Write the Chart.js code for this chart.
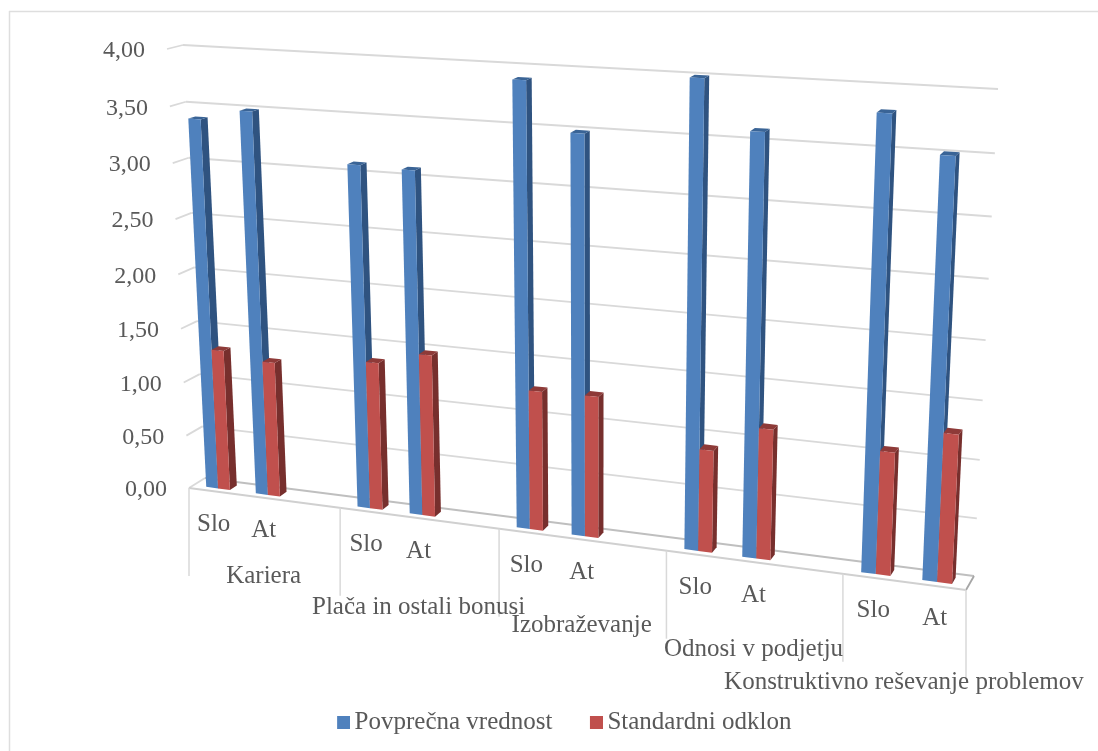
<!DOCTYPE html>
<html>
<head>
<meta charset="utf-8">
<style>
  html, body { margin: 0; padding: 0; background: #fff; }
  #wrap { position: relative; width: 1098px; height: 751px; }
</style>
</head>
<body>
<div id="wrap"><canvas id="chart" width="1098" height="751"></canvas></div>
<script src="https://cdn.jsdelivr.net/npm/chart.js@4/dist/chart.umd.min.js"></script>
<script>
//data
const categories = ['Slo', 'At', '', 'Slo', 'At', '', 'Slo', 'At', '', 'Slo', 'At', '', 'Slo', 'At'];
const groups = ['Kariera', 'Plača in ostali bonusi', 'Izobraževanje', 'Odnosi v podjetju', 'Konstruktivno reševanje problemov'];
const seriesNames = ['Povprečna vrednost', 'Standardni odklon'];
const meanValues = [3.39, 3.49, null, 3.09, 3.08, null, 3.90, 3.49, null, 4.00, 3.60, null, 3.81, 3.51];
const stdValues = [1.31, 1.25, null, 1.35, 1.47, null, 1.25, 1.26, null, 0.90, 1.14, null, 1.06, 1.27];
const yTicks = [0, 0.5, 1, 1.5, 2, 2.5, 3, 3.5, 4];

const INK = '#595959';
const FONT = '"Liberation Serif", "Times New Roman", serif';
const FRONT = ['#4F81BD', '#C0504D'];
const SIDE = ['#2F5380', '#772F2D'];
const TOP = ['#3A6496', '#8E3A38'];

//corners of the plot box on screen: bottom left, bottom right, top right, top left
const frontPlane = [[189, 488], [966, 590], [989, 97], [167, 49]];
const backPlane = [[205, 478], [974, 576], [998, 89], [183, 45]];
//depth range of the columns inside the box (0 front, 1 back)
const barDepth = [0.28, 0.72];
//how far each group label hangs under the floor
const groupDrop = [79, 89, 86, 87, 101];

//unit square -> quad homography
function quadMap(q) {
    const [[x0, y0], [x1, y1], [x2, y2], [x3, y3]] = q;
    const dx1 = x1 - x2, dx2 = x3 - x2, sx = x0 - x1 + x2 - x3;
    const dy1 = y1 - y2, dy2 = y3 - y2, sy = y0 - y1 + y2 - y3;
    const den = dx1 * dy2 - dx2 * dy1;
    const g = (sx * dy2 - dx2 * sy) / den;
    const h = (dx1 * sy - sx * dy1) / den;
    const a = x1 - x0 + g * x1, b = x3 - x0 + h * x3;
    const d = y1 - y0 + g * y1, e = y3 - y0 + h * y3;
    return (u, v) => {
        const w = g * u + h * v + 1;
        return [(a * u + b * v + x0) / w, (d * u + e * v + y0) / w];
    };
}
const mapFront = quadMap(frontPlane);
const mapBack = quadMap(backPlane);
function project(u, v, w) {
    const f = mapFront(u, v), b = mapBack(u, v);
    return [f[0] + (b[0] - f[0]) * w, f[1] + (b[1] - f[1]) * w];
}

function poly(ctx, pts, fill) {
    ctx.beginPath();
    pts.forEach((p, i) => i ? ctx.lineTo(p[0], p[1]) : ctx.moveTo(p[0], p[1]));
    ctx.closePath();
    ctx.fillStyle = fill;
    ctx.fill();
}
function line(ctx, a, b, color, width) {
    ctx.beginPath();
    ctx.moveTo(a[0], a[1]);
    ctx.lineTo(b[0], b[1]);
    ctx.strokeStyle = color;
    ctx.lineWidth = width;
    ctx.stroke();
}

//scales work in flat chart pixels, this turns them into the 0..1 box coordinates
function boxCoords(chart) {
    const area = chart.chartArea;
    return {
        u: px => (px - area.left) / (area.right - area.left),
        v: px => (area.bottom - px) / (area.bottom - area.top)
    };
}

const box3d = {
    id: 'box3d',
    beforeDatasetsDraw(chart) {
        const ctx = chart.ctx, c = boxCoords(chart), yScale = chart.scales.y, xScale = chart.scales.x;

        //outer frame, only top and left are inside the page
        line(ctx, [9, 11.5], [1098, 11.5], '#DEDEDE', 1.5);
        line(ctx, [9.5, 11], [9.5, 751], '#DEDEDE', 1.5);

        //walls
        ctx.textBaseline = 'middle';
        yScale.ticks.forEach(t => {
            const v = c.v(yScale.getPixelForValue(t.value));
            const a = project(0, v, 0), b = project(0, v, 1), d = project(1, v, 1);
            if (t.value > 0) {
                line(ctx, a, b, '#D9D9D9', 1.8);
                line(ctx, b, d, '#D9D9D9', 1.8);
            }
            ctx.font = '24px ' + FONT;
            ctx.fillStyle = INK;
            ctx.textAlign = 'right';
            ctx.fillText(t.value.toFixed(2).replace('.', ','), a[0] - 22, a[1] + 2);
        });

        //floor edges
        line(ctx, project(0, 0, 0), project(0, 0, 1), '#D9D9D9', 1.8);
        line(ctx, project(0, 0, 1), project(1, 0, 1), '#BFBFBF', 1.8);
        line(ctx, project(1, 0, 1), project(1, 0, 0), '#A6A6A6', 1.8);
        line(ctx, project(0, 0, 0), project(1, 0, 0), '#D0D0D0', 1.8);

        //category dividers and labels
        const step = xScale.getPixelForTick(1) - xScale.getPixelForTick(0);
        const slot = i => c.u(xScale.getPixelForTick(0) + (i - 0.5) * step);
        for (let i = 0; i <= categories.length; i++) {
            if (i % 3 === 0 || i === categories.length) {
                const p = project(slot(i), 0, 0);
                line(ctx, p, [p[0], p[1] + 88], '#D9D9D9', 1.5);
            }
        }
        ctx.textAlign = 'center';
        ctx.font = '25px ' + FONT;
        categories.forEach((label, i) => {
            if (!label) return;
            const p = project(c.u(xScale.getPixelForTick(i)), 0, 0);
            ctx.fillText(label, p[0], p[1] + 33);
        });
        groups.forEach((label, g) => {
            const first = g * 3, end = Math.min(first + 3, categories.length);
            const p = project((slot(first) + slot(end)) / 2, 0, 0);
            ctx.fillText(label, p[0], p[1] + groupDrop[g]);
        });
    },
    //columns are drawn below instead of by the default bar element
    beforeDatasetDraw() {
        return false;
    },
    afterDatasetsDraw(chart) {
        const ctx = chart.ctx, c = boxCoords(chart);
        const zero = chart.scales.y.getPixelForValue(0);
        const [w0, w1] = barDepth;
        categories.forEach((_, i) => {
            chart.data.datasets.forEach((ds, s) => {
                const bar = chart.getDatasetMeta(s).data[i];
                if (ds.data[i] == null) return;
                const ul = c.u(bar.x - bar.width / 2), ur = c.u(bar.x + bar.width / 2);
                const v0 = c.v(zero), v1 = c.v(bar.y);
                poly(ctx, [project(ur, v0, w0), project(ur, v0, w1), project(ur, v1, w1), project(ur, v1, w0)], SIDE[s]);
                poly(ctx, [project(ul, v1, w0), project(ur, v1, w0), project(ur, v1, w1), project(ul, v1, w1)], TOP[s]);
                poly(ctx, [project(ul, v0, w0), project(ur, v0, w0), project(ur, v1, w0), project(ul, v1, w0)], FRONT[s]);
            });
        });
    }
};

//legend swatch as an image so the text can sit close to it
function swatch(color) {
    const c = document.createElement('canvas');
    c.width = 17;
    c.height = 13;
    const g = c.getContext('2d');
    g.fillStyle = color;
    g.fillRect(4, 0, 13, 13);
    return c;
}

//config
const config = {
    type: 'bar',
    data: {
        labels: categories,
        datasets: [
            { label: seriesNames[0], data: meanValues, backgroundColor: FRONT[0], pointStyle: swatch(FRONT[0]) },
            { label: seriesNames[1], data: stdValues, backgroundColor: FRONT[1], pointStyle: swatch(FRONT[1]) }
        ]
    },
    options: {
        responsive: false,
        animation: false,
        layout: { padding: { left: 34.5, bottom: 6.5 } },
        datasets: { bar: { categoryPercentage: 0.48, barPercentage: 1 } },
        plugins: {
            tooltip: { enabled: false },
            legend: {
                position: 'bottom',
                labels: {
                    usePointStyle: true,
                    pointStyleWidth: 1,
                    padding: 41.5,
                    color: INK,
                    font: { family: FONT, size: 25 }
                }
            }
        },
        scales: {
            x: { display: false },
            y: {
                display: false,
                min: 0,
                max: 4,
                afterBuildTicks: axis => { axis.ticks = yTicks.map(value => ({ value })); }
            }
        }
    },
    plugins: [box3d]
};

//render init
new Chart(document.getElementById('chart'), config);
</script>
</body>
</html>
